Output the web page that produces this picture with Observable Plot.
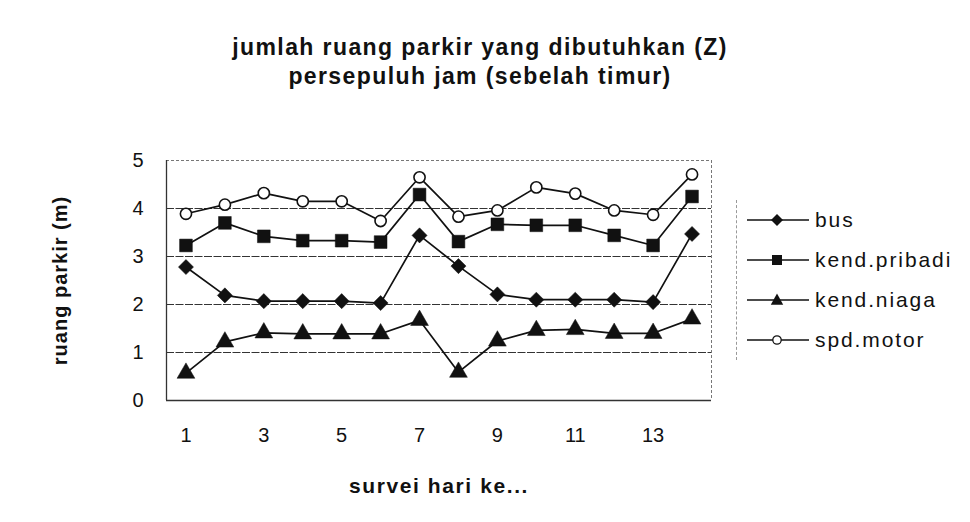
<!DOCTYPE html>
<html>
<head>
<meta charset="utf-8">
<script src="https://cdn.jsdelivr.net/npm/d3@7"></script>
<script src="https://cdn.jsdelivr.net/npm/@observablehq/plot@0.6"></script>
<style>
  html, body { margin: 0; padding: 0; background: #fff; }
  #wrap { position: relative; width: 970px; height: 522px; font-family: "Liberation Sans", Arial, sans-serif; color: #111; overflow: hidden; }
  #title { height: 100px; box-sizing: border-box; padding-top: 33px; width: 960px; text-align: center; font-weight: bold; font-size: 23px; line-height: 29px; letter-spacing: 1.4px; }
  #legend { position: absolute; left: 736px; top: 200px; height: 160px; border-left: 1px dashed #999; }
  .item { display: flex; align-items: center; height: 40px; margin-top: 0; }
  .item span { font-size: 21px; letter-spacing: 1.9px; margin-left: 6px; }
</style>
</head>
<body>
<div id="wrap">
  <div id="title">jumlah ruang parkir yang dibutuhkan (Z)<br>persepuluh jam (sebelah timur)</div>
  <div id="chart"></div>
  <div id="legend"></div>
</div>
<script>
const days = [1, 2, 3, 4, 5, 6, 7, 8, 9, 10, 11, 12, 13, 14];
const bus = [2.78, 2.19, 2.07, 2.07, 2.07, 2.03, 3.44, 2.80, 2.21, 2.10, 2.10, 2.10, 2.05, 3.47];
const kendPribadi = [3.23, 3.70, 3.42, 3.33, 3.33, 3.30, 4.29, 3.31, 3.67, 3.65, 3.65, 3.44, 3.23, 4.25];
const kendNiaga = [0.57, 1.22, 1.41, 1.39, 1.39, 1.39, 1.67, 0.59, 1.24, 1.46, 1.48, 1.40, 1.40, 1.70];
const spdMotor = [3.89, 4.08, 4.32, 4.15, 4.15, 3.74, 4.65, 3.83, 3.96, 4.44, 4.31, 3.96, 3.87, 4.71];
const seriesNames = ["bus", "kend.pribadi", "kend.niaga", "spd.motor"];
const xTicks = [1, 3, 5, 7, 9, 11, 13];
const yTicks = [0, 1, 2, 3, 4, 5];
const gridValues = [1, 2, 3, 4];

const seriesValues = [bus, kendPribadi, kendNiaga, spdMotor];
const symbols = ["diamond2", "square", "triangle", "circle"];
const sizes = [6.8, 7.2, 6.6, 5.6];
const fills = ["#111", "#111", "#111", "#fff"];

const data = seriesNames.flatMap((name, i) =>
  days.map((d, j) => ({series: name, day: d, value: seriesValues[i][j]}))
);

const marks = [
  Plot.ruleY(gridValues, {stroke: "#333", strokeWidth: 1.2, strokeDasharray: "8,1.5"}),
  Plot.ruleY([5], {stroke: "#777", strokeWidth: 1, strokeDasharray: "3,2"}),
  Plot.ruleX([14.5], {stroke: "#777", strokeWidth: 1, strokeDasharray: "3,2"}),
  Plot.ruleY([0], {stroke: "#333", strokeWidth: 1.3}),
  Plot.ruleX([0.5], {stroke: "#333", strokeWidth: 1.3}),
  Plot.axisY({ticks: yTicks, tickFormat: d3.format("d"), tickSize: 0, tickPadding: 23, fontSize: 20, label: "ruang parkir (m)", labelAnchor: "center", labelOffset: 114, labelArrow: "none"}),
  Plot.axisX({ticks: xTicks, tickFormat: d3.format("d"), tickSize: 0, tickPadding: 27, fontSize: 20, label: "survei hari ke...", labelAnchor: "center", labelOffset: 92, labelArrow: "none"})
];
seriesNames.forEach((name, i) => {
  const rows = data.filter(d => d.series === name);
  marks.push(Plot.line(rows, {x: "day", y: "value", stroke: "#111", strokeWidth: 1.7}));
  marks.push(Plot.dot(rows, {x: "day", y: "value", symbol: () => symbols[i], r: sizes[i], fill: fills[i], stroke: "#111", strokeWidth: i === 3 ? 1.6 : 0.5}));
});

const chart = Plot.plot({
  width: 970,
  height: 422,
  marginLeft: 166,
  marginRight: 259,
  marginTop: 60,
  marginBottom: 122,
  style: {fontFamily: "'Liberation Sans', Arial, sans-serif", color: "#111", background: "transparent"},
  x: {domain: [0.5, 14.5], axis: null},
  y: {domain: [0, 5], axis: null},
  symbol: {type: "identity"},
  marks
});
chart.querySelectorAll('g[aria-label="y-axis label"] text').forEach(t => {
  t.setAttribute("font-weight", "bold");
  t.setAttribute("font-size", "20");
  t.style.letterSpacing = "1px";
});
chart.querySelectorAll('g[aria-label="x-axis label"] text').forEach(t => {
  t.setAttribute("font-weight", "bold");
  t.setAttribute("font-size", "21");
  t.style.letterSpacing = "1.6px";
});
document.getElementById("chart").appendChild(chart);

// legend
const legend = document.getElementById("legend");
const symbolPaths = [
  "M0,-6L6,0L0,6L-6,0Z",
  "M-5,-5H5V5H-5Z",
  "M0,-6.5L6.2,4.8H-6.2Z",
  null
];
seriesNames.forEach((name, i) => {
  const item = document.createElement("div");
  item.className = "item";
  const marker = symbolPaths[i]
    ? `<path d="${symbolPaths[i]}" transform="translate(30,10)" fill="#111"/>`
    : `<circle cx="30" cy="10" r="4.2" fill="#fff" stroke="#111" stroke-width="1.3"/>`;
  item.innerHTML = `<svg width="62" height="20" style="margin-left:10px"><line x1="0" y1="10" x2="62" y2="10" stroke="#111" stroke-width="1.5"/>${marker}</svg><span>${name}</span>`;
  legend.appendChild(item);
});
</script>
</body>
</html>
